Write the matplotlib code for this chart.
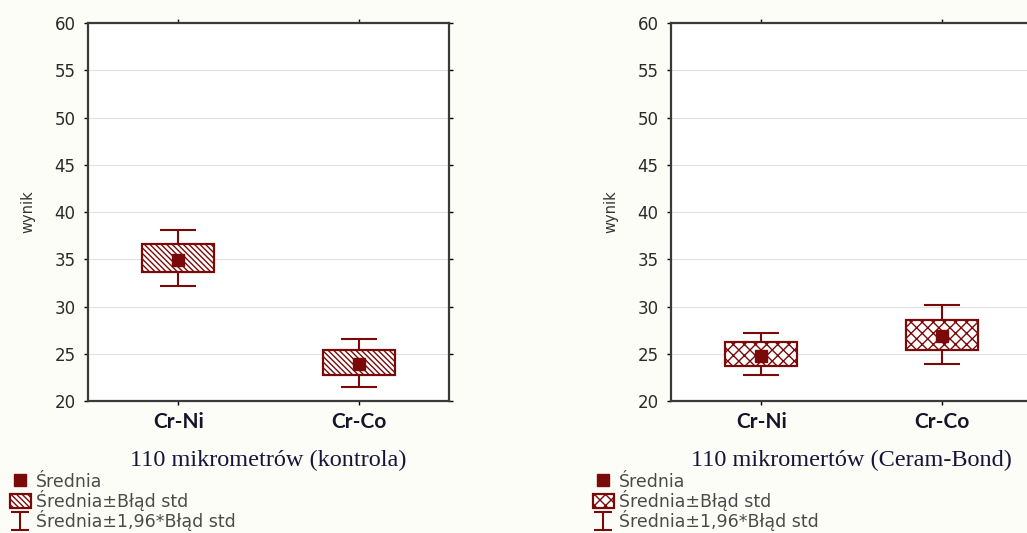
import matplotlib
matplotlib.use("Agg")
import matplotlib.pyplot as plt
from matplotlib.lines import Line2D
from matplotlib.path import Path

# data (mean, +-SE box, +-1.96*SE whiskers)
groups = ["Cr-Ni", "Cr-Co"]
titles = ["110 mikrometrów (kontrola)", "110 mikromertów (Ceram-Bond)"]
hatches = ["\\\\\\\\\\\\", "xxx"]

mean_k = [34.9, 23.9]
se_lo_k = [33.7, 22.7]
se_hi_k = [36.6, 25.4]
ci_lo_k = [32.2, 21.5]
ci_hi_k = [38.1, 26.6]

mean_c = [24.8, 26.9]
se_lo_c = [23.7, 25.4]
se_hi_c = [26.2, 28.6]
ci_lo_c = [22.7, 23.9]
ci_hi_c = [27.2, 30.2]

legend_labels = ["Średnia", "Średnia±Błąd std", "Średnia±1,96*Błąd std"]

maroon = "#7a0a0a"

plt.rcParams["font.family"] = ["DejaVu Sans"]
plt.rcParams["hatch.linewidth"] = 1.0

# "I" shaped marker for the whisker legend entry
i_marker = Path([(-1, 1), (1, 1), (0, 1), (0, -1), (-1, -1), (1, -1)],
                [Path.MOVETO, Path.LINETO, Path.MOVETO, Path.LINETO, Path.MOVETO, Path.LINETO])

fig = plt.figure(figsize=(10.27, 5.33), dpi=100, facecolor="#fdfdf8")

panels = [
    (0.0857, titles[0], hatches[0], mean_k, se_lo_k, se_hi_k, ci_lo_k, ci_hi_k),
    (0.6534, titles[1], hatches[1], mean_c, se_lo_c, se_hi_c, ci_lo_c, ci_hi_c),
]

for left, title, hatch, mean, se_lo, se_hi, ci_lo, ci_hi in panels:
    ax = fig.add_axes([left, 0.2477, 0.3515, 0.709])
    ax.set_facecolor("white")
    x = list(range(len(groups)))

    ax.grid(axis="y", color="#e2e2e2", lw=0.8)
    ax.set_axisbelow(True)

    yerr = [[m - l for m, l in zip(mean, ci_lo)], [h - m for m, h in zip(mean, ci_hi)]]
    ax.errorbar(x, mean, yerr=yerr, fmt="none", ecolor=maroon, elinewidth=1.5,
                capsize=13.3, capthick=1.5, zorder=2)
    bars = ax.bar(x, [h - l for h, l in zip(se_hi, se_lo)], bottom=se_lo, width=0.4,
                  facecolor="white", edgecolor=maroon, hatch=hatch, lw=1.6, zorder=3)
    pts, = ax.plot(x, mean, "s", color=maroon, ms=8.5, zorder=4)

    ax.set_xlim(-0.5, 1.5)
    ax.set_ylim(20, 60)
    ax.set_yticks(range(20, 61, 5))
    ax.set_xticks(x)
    ax.set_xticklabels(groups, fontfamily="Lato", fontweight="bold", fontsize=15,
                       color="#15152a")
    ax.tick_params(axis="y", labelsize=12, labelcolor="#2a2a2a", length=3, width=1,
                   right=True, pad=6)
    ax.tick_params(axis="x", length=3, width=1, top=True, pad=5)
    for s in ax.spines.values():
        s.set_color("#3a3a3a")
        s.set_linewidth(1.6)
    ax.set_xlabel(title, fontfamily="Liberation Serif", fontsize=17.5, color="#15153a",
                  labelpad=13)
    ax.set_ylabel("wynik", fontsize=10.5, color="#333333", labelpad=14)

    whisk = Line2D([], [], marker=i_marker, linestyle="none", markersize=12.5,
                   markerfacecolor="none", markeredgecolor=maroon, markeredgewidth=1.5)
    sq = Line2D([], [], marker="s", linestyle="none", markersize=8, color=maroon)
    fig.legend([sq, bars.patches[0], whisk], legend_labels,
               loc="upper left", bbox_to_anchor=(left - 0.076, 0.113),
               frameon=False, fontsize=12.5, labelcolor="#4a4a4a",
               handlelength=1.2, handleheight=0.8, handletextpad=0.3, labelspacing=-0.05,
               borderaxespad=0, borderpad=0)

fig.savefig("out.png", dpi=100, facecolor=fig.get_facecolor())
